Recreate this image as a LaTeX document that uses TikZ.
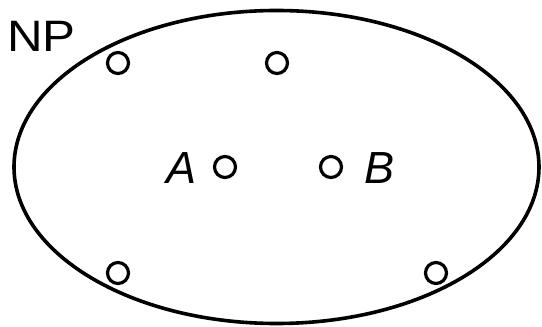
\documentclass[tikz,border=0pt]{standalone}
\usepackage{fontspec}
\setmainfont{Liberation Sans}
\usetikzlibrary{shapes.geometric}
\begin{document}
\begin{tikzpicture}[x=1pt,y=1pt,
  pt/.style={draw,circle,line width=3.2pt,minimum size=21pt,inner sep=0pt},
  lbl/.style={inner sep=0pt,anchor=base west,font=\fontsize{45}{52}\selectfont}]
\useasboundingbox (0,0) rectangle (542,327);
\node[draw,ellipse,line width=3.6pt,minimum width=525pt,minimum height=313pt,inner sep=0pt] (np) at (276.5,160) {};
\node[lbl,font=\fontsize{44}{52}\selectfont] (nplabel) at (7,275) {\scalebox{1.12}[1]{NP}};
\node[pt] (p1) at (118,264) {};
\node[pt] (p2) at (277,264) {};
\node[pt] (pa) at (225,160) {};
\node[pt] (pb) at (331,160) {};
\node[pt] (p3) at (118,54) {};
\node[pt] (p4) at (436,54) {};
\node[lbl] (la) at (166,143) {\itshape A};
\node[lbl] (lb) at (364,143) {\itshape B};
\end{tikzpicture}
\end{document}
